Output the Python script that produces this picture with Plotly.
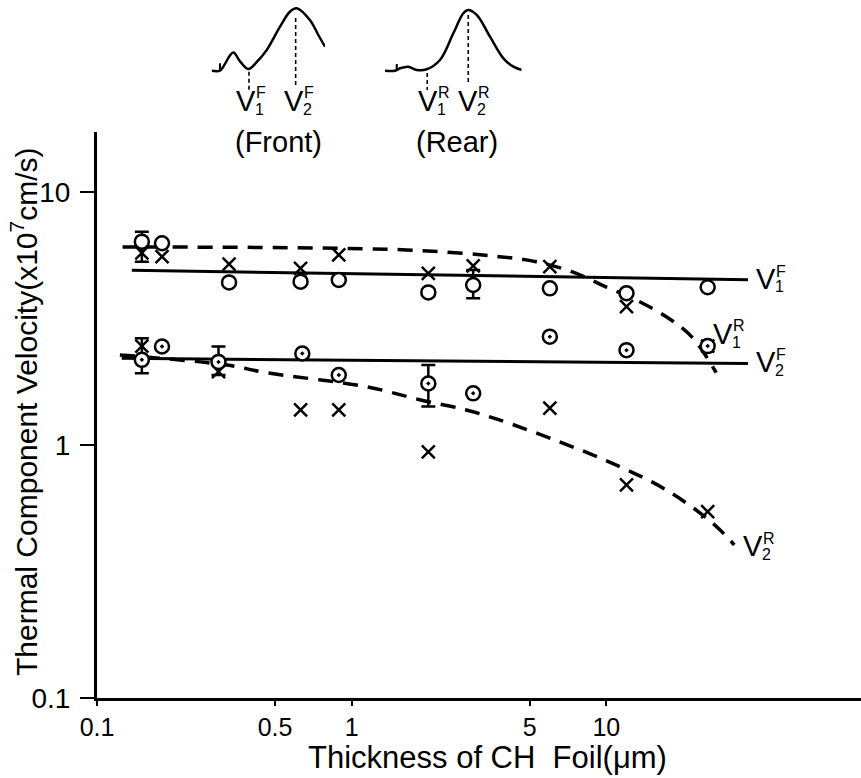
import plotly.graph_objects as go

# ---------------- data ----------------
thick_v1f = [0.15, 0.18, 0.33, 0.63, 0.89, 2.0, 3.0, 6.0, 12.0, 25.0]
v1f = [6.36, 6.27, 4.39, 4.42, 4.49, 4.01, 4.29, 4.16, 3.98, 4.2]
v1f_err_plus = [0.6, 0, 0, 0, 0, 0, 0.63, 0, 0, 0]
v1f_err_minus = [1.06, 0, 0, 0, 0, 0, 0.49, 0, 0, 0]

thick_v1r = [0.15, 0.18, 0.33, 0.63, 0.89, 2.0, 3.0, 6.0, 12.0, 25.0]
v1r = [5.74, 5.55, 5.19, 4.99, 5.64, 4.77, 5.1, 5.07, 3.52, 2.46]

thick_v2f = [0.15, 0.18, 0.30, 0.64, 0.89, 2.0, 3.0, 6.0, 12.0, 25.0]
v2f = [2.17, 2.45, 2.13, 2.30, 1.89, 1.75, 1.60, 2.68, 2.37, 2.46]
v2f_err_plus = [0.47, 0, 0.32, 0, 0, 0.32, 0, 0, 0, 0]
v2f_err_minus = [0.25, 0, 0.24, 0, 0, 0.33, 0, 0, 0, 0]

thick_v2r = [0.15, 0.30, 0.63, 0.89, 2.0, 6.0, 12.0, 25.0]
v2r = [2.46, 1.95, 1.375, 1.375, 0.94, 1.40, 0.695, 0.545]

# hand-drawn guide curves
guide_v1f_x = [0.137, 36.0]
guide_v1f_y = [4.9, 4.5]
guide_v2f_x = [0.125, 36.0]
guide_v2f_y = [2.2, 2.1]
guide_v1r_x = [0.126, 1.64, 3.8, 5.3, 7.36, 10.0, 13.1, 17.2, 21.7, 27.0]
guide_v1r_y = [6.06, 5.90, 5.55, 5.30, 4.83, 4.21, 3.74, 3.21, 2.67, 1.93]
guide_v2r_x = [0.123, 0.323, 0.463, 1.142, 1.85, 2.82, 3.8, 6.54, 10.9, 17.2, 26.1, 31.8]
guide_v2r_y = [2.27, 2.07, 1.93, 1.70, 1.51, 1.375, 1.256, 1.03, 0.834, 0.664, 0.492, 0.403]

# tick labels
x_ticks = [0.1, 0.5, 1, 5, 10]
x_tick_text = ["0.1", "0.5", "1", "5", "10"]
y_ticks = [0.1, 1, 10]
y_tick_text = ["0.1", "1", "10"]

# schematic spectra in the inset (normalised shape)
front_x = [0, 0.073, 0.102, 0.19, 0.25, 0.323, 0.40, 0.485, 0.603, 0.69, 0.75, 0.868, 0.941, 1.0]
front_y = [0, 0, 0.064, 0.29, 0.15, 0.027, 0.144, 0.33, 0.705, 0.945, 1.0, 0.81, 0.572, 0.385]
front_spike_x = [0.073, 0.073]
front_spike_y = [0, 0.12]
front_marks_x = [0.329, 0.741]
front_marks_top = [-0.016, 0.845]
front_marks_bot = [-0.337, -0.229]

rear_x = [0, 0.073, 0.11, 0.17, 0.232, 0.305, 0.402, 0.50, 0.573, 0.609, 0.671, 0.768, 0.866, 0.939, 1.0]
rear_y = [0, 0, 0.04, 0.066, 0.012, 0.023, 0.176, 0.616, 0.946, 1.0, 0.918, 0.56, 0.204, 0.066, 0.012]
rear_spike_x = [0.086, 0.086]
rear_spike_y = [0, 0.11]
rear_marks_x = [0.309, 0.609]
rear_marks_top = [-0.038, 0.918]
rear_marks_bot = [-0.318, -0.203]

# ---------------- figure ----------------
W, H = 861, 778
ML, MB, MT, MR = 97, 80, 0, 0
PW, PH = W - ML - MR, H - MB - MT
FONT = "Liberation Sans, Arial, sans-serif"


def px(x):
    return (x - ML) / PW


def py(y):
    return (H - MB - y) / PH


fig = go.Figure()
BLK = "black"

# guide lines
fig.add_trace(go.Scatter(x=guide_v1f_x, y=guide_v1f_y, mode="lines",
                         line=dict(color=BLK, width=3), hoverinfo="skip"))
fig.add_trace(go.Scatter(x=guide_v2f_x, y=guide_v2f_y, mode="lines",
                         line=dict(color=BLK, width=3), hoverinfo="skip"))
fig.add_trace(go.Scatter(x=guide_v1r_x, y=guide_v1r_y, mode="lines",
                         line=dict(color=BLK, width=3.5, dash="15px,10px", shape="spline"),
                         hoverinfo="skip"))
fig.add_trace(go.Scatter(x=guide_v2r_x, y=guide_v2r_y, mode="lines",
                         line=dict(color=BLK, width=3.5, dash="15px,10px", shape="spline"),
                         hoverinfo="skip"))

# rear (X) markers
fig.add_trace(go.Scatter(x=thick_v1r, y=v1r, mode="markers", name="V1R",
                         marker=dict(symbol="x-thin-open", size=13, color=BLK,
                                     line=dict(color=BLK, width=2.5))))
fig.add_trace(go.Scatter(x=thick_v2r, y=v2r, mode="markers", name="V2R",
                         marker=dict(symbol="x-thin-open", size=13, color=BLK,
                                     line=dict(color=BLK, width=2.5))))

# front (circle) markers with error bars
fig.add_trace(go.Scatter(x=thick_v1f, y=v1f, mode="markers", name="V1F",
                         marker=dict(symbol="circle", size=14, color="white",
                                     line=dict(color=BLK, width=2.5)),
                         error_y=dict(type="data", symmetric=False, array=v1f_err_plus,
                                      arrayminus=v1f_err_minus, color=BLK,
                                      thickness=2.5, width=7)))
fig.add_trace(go.Scatter(x=thick_v2f, y=v2f, mode="markers", name="V2F",
                         marker=dict(symbol="circle-dot", size=14, color="white",
                                     line=dict(color=BLK, width=2.5)),
                         error_y=dict(type="data", symmetric=False, array=v2f_err_plus,
                                      arrayminus=v2f_err_minus, color=BLK,
                                      thickness=2.5, width=7)))

# inset spectra
INS = dict(mode="lines", line=dict(color=BLK, width=2.5, shape="spline"), hoverinfo="skip")
fig.add_trace(go.Scatter(x=front_x, y=front_y, xaxis="x2", yaxis="y2", **INS))
fig.add_trace(go.Scatter(x=front_spike_x, y=front_spike_y, xaxis="x2", yaxis="y2",
                         mode="lines", line=dict(color=BLK, width=2), hoverinfo="skip"))
fig.add_trace(go.Scatter(x=rear_x, y=rear_y, xaxis="x3", yaxis="y3", **INS))
fig.add_trace(go.Scatter(x=rear_spike_x, y=rear_spike_y, xaxis="x3", yaxis="y3",
                         mode="lines", line=dict(color=BLK, width=2), hoverinfo="skip"))
for xs, tops, bots, ax, ay in [(front_marks_x, front_marks_top, front_marks_bot, "x2", "y2"),
                               (rear_marks_x, rear_marks_top, rear_marks_bot, "x3", "y3")]:
    for xv, t, b in zip(xs, tops, bots):
        fig.add_trace(go.Scatter(x=[xv, xv], y=[t, b], xaxis=ax, yaxis=ay, mode="lines",
                                 line=dict(color=BLK, width=1.6, dash="4px,3px"),
                                 hoverinfo="skip"))

annotations = []


def vlabel(cx, cy, sub, sup, size=29, small=16):
    annotations.append(dict(x=px(cx), y=py(cy), xref="paper", yref="paper", text="V",
                            showarrow=False, xanchor="center", yanchor="middle",
                            font=dict(size=size, family=FONT, color=BLK)))
    annotations.append(dict(x=px(cx + 8), y=py(cy - 8), xref="paper", yref="paper", text=sup,
                            showarrow=False, xanchor="left", yanchor="middle",
                            font=dict(size=small, family=FONT, color=BLK)))
    annotations.append(dict(x=px(cx + 7), y=py(cy + 8), xref="paper", yref="paper", text=sub,
                            showarrow=False, xanchor="left", yanchor="middle",
                            font=dict(size=small, family=FONT, color=BLK)))


# curve labels on the right
vlabel(765.5, 279, "1", "F")
vlabel(723, 334, "1", "R")
vlabel(765.5, 362, "2", "F")
vlabel(753, 546, "2", "R")
# inset labels
vlabel(245.8, 101, "1", "F")
vlabel(294, 101, "2", "F")
vlabel(427.5, 101, "1", "R")
vlabel(467.5, 101, "2", "R")

annotations.append(dict(x=px(278), y=py(142), xref="paper", yref="paper", text="(Front)",
                        showarrow=False, xanchor="center", yanchor="middle",
                        font=dict(size=29, family=FONT, color=BLK)))
annotations.append(dict(x=px(457), y=py(142), xref="paper", yref="paper", text="(Rear)",
                        showarrow=False, xanchor="center", yanchor="middle",
                        font=dict(size=29, family=FONT, color=BLK)))

# axis titles
annotations.append(dict(x=px(487), y=py(757), xref="paper", yref="paper",
                        text="Thickness of CH  Foil(\u03bcm)", showarrow=False,
                        xanchor="center", yanchor="middle",
                        font=dict(size=31, family=FONT, color=BLK)))
annotations.append(dict(x=px(24), y=py(412), xref="paper", yref="paper",
                        text="Thermal Component Velocity(x10<sup>7</sup>cm/s)", showarrow=False,
                        textangle=-90, xanchor="center", yanchor="middle",
                        font=dict(size=30, family=FONT, color=BLK)))

main_top = py(132)
ins_dom_f = [py(95.66), py(2.06)]
ins_dom_r = [py(94.98), py(3.93)]

fig.update_layout(
    width=W, height=H,
    margin=dict(l=ML, r=MR, t=MT, b=MB),
    paper_bgcolor="white", plot_bgcolor="white",
    showlegend=False,
    font=dict(family=FONT, color=BLK),
    xaxis=dict(type="log", range=[-1, 2], domain=[0, 1], anchor="y",
               tickvals=x_ticks, ticktext=x_tick_text, ticks="outside", ticklen=5,
               tickwidth=2, tickcolor=BLK, showline=True, linecolor=BLK, linewidth=3,
               showgrid=False, zeroline=False, ticklabelstandoff=0,
               tickfont=dict(size=25, family=FONT, color=BLK)),
    yaxis=dict(type="log", range=[-1, 1.237], domain=[0, main_top], anchor="x",
               tickvals=y_ticks, ticktext=y_tick_text, ticks="outside", ticklen=14,
               tickwidth=2, tickcolor=BLK, showline=True, linecolor=BLK, linewidth=3,
               showgrid=False, zeroline=False, ticklabelstandoff=4,
               tickfont=dict(size=28, family=FONT, color=BLK)),
    xaxis2=dict(domain=[px(211.7), px(325)], range=[0, 1], anchor="y2", visible=False),
    yaxis2=dict(domain=ins_dom_f, range=[-0.4, 1.1], anchor="x2", visible=False),
    xaxis3=dict(domain=[px(385), px(521.7)], range=[0, 1], anchor="y3", visible=False),
    yaxis3=dict(domain=ins_dom_r, range=[-0.4, 1.1], anchor="x3", visible=False),
    annotations=annotations,
)

fig.write_html("out.html")
